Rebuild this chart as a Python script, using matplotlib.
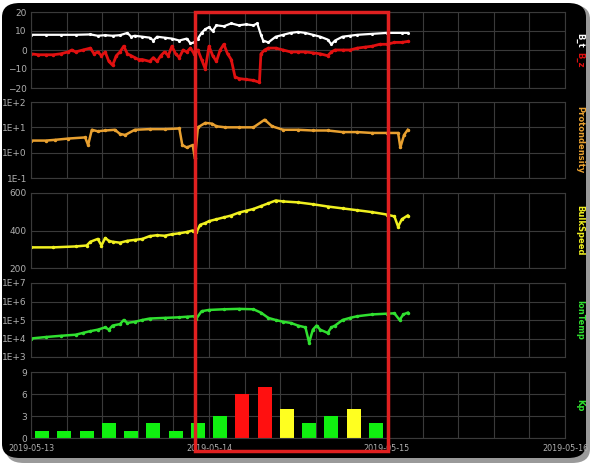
import matplotlib
matplotlib.use("Agg")
import matplotlib.pyplot as plt
from matplotlib.patches import FancyBboxPatch, Rectangle
from matplotlib.ticker import FixedLocator, FixedFormatter, MultipleLocator, NullFormatter

# ---- data (hours since 2019-05-13 00:00) ----
t_bt = [0, 2, 4, 6, 8, 9, 10, 11, 12, 13, 13.5, 14, 15, 16, 16.5, 17, 18, 19, 20, 21,
        21.5, 22, 22.5, 23, 23.5, 24, 24.5, 25, 26, 27, 28, 29, 30, 30.5, 31, 31.3, 32,
        33, 34, 35, 36, 37, 38, 39, 40, 40.5, 41, 42, 43, 44, 46, 48, 50, 50.8]
bt = [8, 8, 8, 8, 8.2, 7.5, 7.8, 7.5, 7.8, 9, 7, 7.5, 7, 6.5, 5, 7, 6.5, 6, 5, 6,
      3.5, 4, 6, 9, 11, 12, 10, 13, 12.5, 14, 13, 13.5, 13, 14, 8, 5, 4,
      7, 8, 9, 9.5, 9, 8, 7, 5.5, 3, 5, 7, 7.5, 8, 8.5, 9, 9, 9]

t_bz = [0, 1, 2, 3, 4, 5, 5.5, 6, 7, 8, 8.5, 9, 9.5, 10, 10.5, 11, 11.5, 12, 12.5, 13,
        13.5, 14, 14.5, 15, 16, 16.5, 17, 17.5, 18, 18.5, 19, 19.5, 20, 20.5, 21, 21.5,
        22, 22.5, 23, 23.5, 24, 24.5, 25, 25.5, 26, 26.5, 27, 27.5, 28, 29, 30, 30.8,
        31, 31.5, 32, 33, 34, 35, 36, 37, 38, 39, 40, 40.5, 41, 42, 43, 44, 45, 46, 47,
        48, 49, 50, 50.8]
bz = [-2, -2.5, -2.5, -2.5, -2, -1, 0, -1, 0, 1, -2, -1, -3, -1, -6, -8, -3, -1, 2, -2,
      -3, -4, -5, -5, -6, -4, -6, -3, -1, -3, 2, -2, -4, 0, -1, 1,
      -2, 0, -5, -10, 2, -3, -6, 0, 3, -2, -5, -14, -15, -15.5, -16, -17,
      -2, 0, 1, 1, 0, -1, -1, -1, -1.5, -2, -3, -1, 0, 0, 0, 1, 1.5, 2, 3,
      3, 4, 4, 4.5]

t_np = [0, 2, 3.2, 5, 7.3, 7.7, 8.2, 9, 10, 11.3, 12, 12.7, 14, 16, 18, 20, 20.4, 21,
        21.8, 22.1, 22.5, 23.5, 24.4, 25, 26.2, 28, 30, 31.5, 32.5, 34, 36, 38, 40, 42,
        44, 46, 48, 49.5, 49.8, 50.3, 50.8]
np_dens = [3, 3, 3.2, 3.6, 4, 2, 8, 7, 7.5, 8, 5.5, 5, 8, 8.5, 8.5, 9, 2, 1.6,
           2, 0.6, 10, 15, 14, 11, 10, 10, 10, 20, 11, 8, 8, 7.5, 7.5, 6.5,
           6.5, 6, 6, 6, 1.6, 5, 8]

t_v = [0, 3, 6, 7.5, 8, 9, 9.5, 10, 10.5, 11, 12, 13, 14, 15, 16, 17, 18, 19, 20, 21,
       21.8, 22.3, 22.8, 23.5, 24, 25, 26, 27, 28, 29, 30, 31, 32, 33, 34, 36, 38, 40,
       42, 44, 46, 48, 49, 49.5, 50, 50.8]
speed = [310, 310, 315, 320, 340, 355, 320, 360, 345, 340, 335, 345, 350, 355, 370, 375, 372, 380, 385, 392,
         400, 390, 430, 440, 450, 460, 470, 480, 495, 505, 515, 530, 545, 560, 555, 550, 540, 528,
         518, 508, 498, 485, 475, 420, 460, 480]

t_ti = [0, 2, 4, 6, 7, 8, 9, 10, 10.5, 11, 12, 12.5, 13, 14, 15, 16, 18, 20, 21, 22,
        22.3, 23, 24, 26, 28, 30, 31, 32, 33, 34, 35, 36, 37, 37.5, 38, 38.5, 39, 40,
        40.5, 41, 42, 43, 44, 46, 48, 49, 49.7, 50.2, 50.8]
ion_temp = [1e4, 1.2e4, 1.4e4, 1.6e4, 2e4, 2.5e4, 3e4, 4e4, 3e4, 5e4, 6e4, 1e5, 7e4, 8e4, 1e5, 1.2e5, 1.3e5, 1.4e5, 1.5e5, 1.6e5,
            1.2e5, 3e5, 3.5e5, 3.8e5, 4e5, 3.8e5, 2.5e5, 1.3e5, 1e5, 8e4, 7e4, 5e4, 4e4, 6e3, 3e4, 5e4, 3e4, 2e4,
            4e4, 5e4, 1e5, 1.3e5, 1.6e5, 2e5, 2.2e5, 2.3e5, 1e5, 2e5, 2.5e5]

t_kp = [1.5, 4.5, 7.5, 10.5, 13.5, 16.5, 19.5, 22.5, 25.5, 28.5, 31.5, 34.5, 37.5, 40.5, 43.5, 46.5]
kp = [1, 1, 1, 2, 1, 2, 1, 2, 3, 6, 7, 4, 2, 3, 4, 2]

date_ticks = [0, 24, 48, 72]
date_labels = ["2019-05-13", "2019-05-14", "2019-05-15", "2019-05-16"]

# ---- figure ----
W, H = 600, 470
fig = plt.figure(figsize=(6, 4.7), dpi=100, facecolor="white")

def fx(px):
    return px / W

def fy(py):
    return 1 - py / H

# shadow + black rounded background (behind the axes)
fig.patches.append(FancyBboxPatch((fx(6), fy(463)), fx(584), (458 / H), transform=fig.transFigure,
                                  boxstyle="round,pad=0,rounding_size=0.03", fc="#9a9a9a", ec="none", zorder=-20))
fig.patches.append(FancyBboxPatch((fx(2), fy(458)), fx(584), (455 / H), transform=fig.transFigure,
                                  boxstyle="round,pad=0,rounding_size=0.03", fc="black", ec="none", zorder=-10))

left, right = 31, 565
panels = [(12, 88), (102, 178), (193, 268), (283, 357), (372, 438)]
axes = []
for top, bot in panels:
    ax = fig.add_axes([fx(left), fy(bot), fx(right - left), (bot - top) / H])
    ax.set_facecolor("black")
    ax.set_xlim(0, 72)
    ax.xaxis.set_major_locator(FixedLocator(date_ticks))
    ax.xaxis.set_major_formatter(NullFormatter())
    ax.xaxis.set_minor_locator(MultipleLocator(4.8))
    ax.tick_params(which="both", length=0, labelsize=6.5, colors="#b0b0b0", pad=3)
    ax.grid(True, which="both", color="#3a3a3a", lw=0.8)
    ax.set_axisbelow(True)
    for s in ax.spines.values():
        s.set_color("#3a3a3a")
    axes.append(ax)

# panel 1: B_t / B_z
ax = axes[0]
ax.plot(t_bt, bt, color="white", lw=1.6, marker=".", ms=2.5)
ax.plot(t_bz, bz, color="#e01010", lw=2.0, marker=".", ms=3)
ax.set_ylim(-20, 20)
ax.set_yticks([-20, -10, 0, 10, 20])

# panel 2: proton density
ax = axes[1]
ax.plot(t_np, np_dens, color="#e8a030", lw=1.8, marker=".", ms=3)
ax.set_yscale("log")
ax.set_ylim(0.1, 100)
ax.yaxis.set_major_locator(FixedLocator([0.1, 1, 10, 100]))
ax.yaxis.set_major_formatter(FixedFormatter(["1E-1", "1E+0", "1E+1", "1E+2"]))
ax.yaxis.set_minor_locator(FixedLocator([]))

# panel 3: bulk speed
ax = axes[2]
ax.plot(t_v, speed, color="#f0f020", lw=1.8, marker=".", ms=3)
ax.set_ylim(200, 600)
ax.set_yticks([200, 400, 600])

# panel 4: ion temperature
ax = axes[3]
ax.plot(t_ti, ion_temp, color="#30e030", lw=1.8, marker=".", ms=3)
ax.set_yscale("log")
ax.set_ylim(1e3, 1e7)
ax.yaxis.set_major_locator(FixedLocator([1e3, 1e4, 1e5, 1e6, 1e7]))
ax.yaxis.set_major_formatter(FixedFormatter(["1E+3", "1E+4", "1E+5", "1E+6", "1E+7"]))
ax.yaxis.set_minor_locator(FixedLocator([]))

# panel 5: Kp bars
ax = axes[4]
kp_colors = ["#ff1010" if k >= 5 else ("#ffff20" if k == 4 else "#10f010") for k in kp]
ax.bar(t_kp, kp, width=1.9, color=kp_colors)
ax.set_ylim(0, 9)
ax.set_yticks([0, 3, 6, 9])
ax.xaxis.set_major_formatter(FixedFormatter(date_labels))
ax.tick_params(axis="x", which="major", pad=4, labelsize=5.8)

# right-side labels
lab = dict(rotation=-90, ha="center", va="center", fontsize=6, fontweight="bold")
fig.text(fx(580), fy(40), "B_t", color="white", **lab)
fig.text(fx(580), fy(60), "B_z", color="#e01010", **lab)
fig.text(fx(580), fy(140), "Protondensity", color="#e8a030", **lab)
fig.text(fx(580), fy(230), "BulkSpeed", color="#f0f020", **lab)
fig.text(fx(580), fy(320), "IonTemp", color="#30e030", **lab)
fig.text(fx(580), fy(405), "Kp", color="#30e030", **lab)

# highlight box
fig.patches.append(Rectangle((fx(195), fy(451)), fx(388 - 195), (451 - 12) / H, transform=fig.transFigure,
                             fill=False, ec="#e02020", lw=2.5, zorder=10))

fig.savefig("out.png", dpi=100, facecolor=fig.get_facecolor())
